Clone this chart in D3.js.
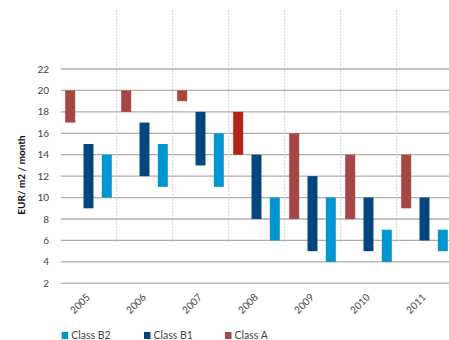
<!DOCTYPE html>
<html>
<head>
<meta charset="utf-8">
<script src="https://cdn.jsdelivr.net/npm/d3@7"></script>
<style>
  body { margin: 0; background: #fff; }
  text { font-family: Lato, "Open Sans", sans-serif; }
</style>
</head>
<body>
<div id="graph"></div>
<script>
// Chart data: rent ranges per year and office class
const years = ['2005', '2006', '2007', '2008', '2009', '2010', '2011']
const classes = ['A', 'B1', 'B2']
const classALow = [17, 18, 19, 14, 8, 8, 9]
const classAHigh = [20, 20, 20, 18, 16, 14, 14]
const classB1Low = [9, 12, 13, 8, 5, 5, 6]
const classB1High = [15, 17, 18, 14, 12, 10, 10]
const classB2Low = [10, 11, 11, 6, 4, 4, 5]
const classB2High = [14, 15, 16, 10, 10, 7, 7]
const yTicks = [2, 4, 6, 8, 10, 12, 14, 16, 18, 20, 22]
const legendItems = [
  { key: 'B2', label: 'Class B2' },
  { key: 'B1', label: 'Class B1' },
  { key: 'A', label: 'Class A' }
]

const total_width = 449
const total_height = 340

const color = d3.scaleOrdinal()
  .domain(['A', 'B1', 'B2'])
  .range(['#a84545', '#03467f', '#0096d2'])
// 2008 Class A is drawn in a brighter red
const highlightRed = '#b3231b'

const svg = d3.select('#graph').append('svg')
  .attr('width', total_width)
  .attr('height', total_height)

const x = d3.scaleBand().domain(years).range([60.7, 452.7])
const xInner = d3.scaleBand().domain(classes).range([4.5, 51.1]).paddingInner(0.455)
const y = d3.scaleLinear().domain([2, 22]).range([283.3, 69])

// horizontal grid lines
svg.append('g').selectAll('line')
  .data(yTicks)
  .join('line')
  .attr('x1', 60.7)
  .attr('x2', 449)
  .attr('y1', d => y(d))
  .attr('y2', d => y(d))
  .attr('stroke', '#aeaeae')
  .attr('stroke-width', 1.3)

// dashed vertical separators between years
svg.append('g').selectAll('line')
  .data(years.slice(1))
  .join('line')
  .attr('x1', d => x(d))
  .attr('x2', d => x(d))
  .attr('y1', 10)
  .attr('y2', 242)
  .attr('stroke', '#d3d3e3')
  .attr('stroke-width', 1)
  .attr('stroke-dasharray', '2,1')

// y tick labels
svg.append('g').selectAll('text')
  .data(yTicks)
  .join('text')
  .attr('x', 49)
  .attr('y', d => y(d))
  .attr('dy', '0.35em')
  .attr('text-anchor', 'end')
  .attr('font-size', 10)
  .attr('fill', '#444')
  .text(d => d)

// y axis title
svg.append('text')
  .attr('transform', 'translate(25, 175) rotate(-90)')
  .attr('text-anchor', 'middle')
  .attr('font-size', 10)
  .attr('font-weight', 'bold')
  .attr('fill', '#111')
  .text('EUR/ m2 / month')

// build rows for bars
const rows = []
years.forEach((yr, i) => {
  rows.push({ year: yr, cls: 'A', low: classALow[i], high: classAHigh[i] })
  rows.push({ year: yr, cls: 'B1', low: classB1Low[i], high: classB1High[i] })
  rows.push({ year: yr, cls: 'B2', low: classB2Low[i], high: classB2High[i] })
})

svg.append('g').selectAll('rect')
  .data(rows)
  .join('rect')
  .attr('x', d => x(d.year) + xInner(d.cls))
  .attr('width', xInner.bandwidth())
  .attr('y', d => y(d.high))
  .attr('height', d => y(d.low) - y(d.high))
  .attr('fill', d => (d.cls === 'A' && d.year === '2008') ? highlightRed : color(d.cls))

// x labels, rotated
svg.append('g').selectAll('text')
  .data(years)
  .join('text')
  .attr('transform', d => `translate(${x(d) + x.bandwidth() / 2 + 2}, 298) rotate(-45)`)
  .attr('text-anchor', 'end')
  .attr('font-size', 10)
  .attr('fill', '#444')
  .text(d => d)

// legend
const legendX = [61.7, 144, 225]
const legend = svg.append('g').selectAll('g')
  .data(legendItems)
  .join('g')
  .attr('transform', (d, i) => `translate(${legendX[i]}, 332)`)
legend.append('rect')
  .attr('width', 6.5)
  .attr('height', 7)
  .attr('fill', d => color(d.key))
legend.append('text')
  .attr('x', 9.5)
  .attr('y', 7)
  .attr('font-size', 10.5)
  .attr('fill', '#444')
  .text(d => d.label)
</script>
</body>
</html>
